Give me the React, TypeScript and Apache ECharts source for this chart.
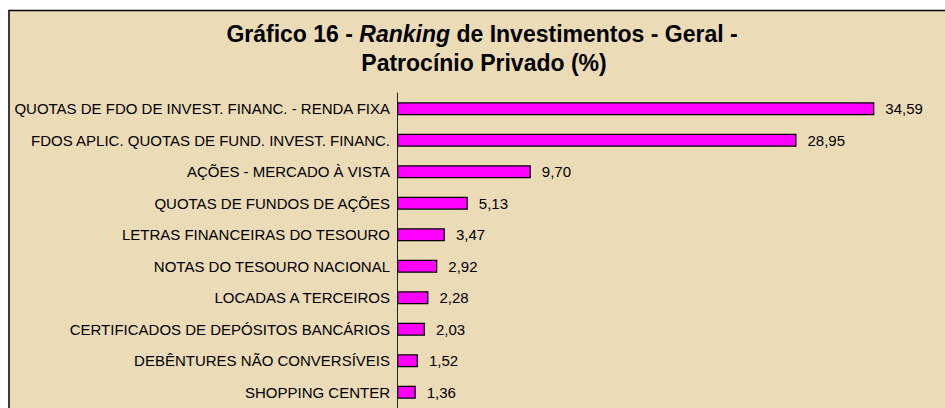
import React, { useEffect, useRef } from "react";
import * as echarts from "echarts";

const categories: string[] = [
  "QUOTAS DE FDO DE INVEST. FINANC. - RENDA FIXA",
  "FDOS APLIC. QUOTAS DE FUND. INVEST. FINANC.",
  "AÇÕES - MERCADO À VISTA",
  "QUOTAS DE FUNDOS DE AÇÕES",
  "LETRAS FINANCEIRAS DO TESOURO",
  "NOTAS DO TESOURO NACIONAL",
  "LOCADAS A TERCEIROS",
  "CERTIFICADOS DE DEPÓSITOS BANCÁRIOS",
  "DEBÊNTURES NÃO CONVERSÍVEIS",
  "SHOPPING CENTER",
];
const values: number[] = [34.59, 28.95, 9.7, 5.13, 3.47, 2.92, 2.28, 2.03, 1.52, 1.36];

const titleLine1 = ["Gráfico 16 - ", "Ranking", " de Investimentos - Geral -"];
const titleLine2 = "Patrocínio Privado (%)";

const FONT = "'Liberation Sans', Arial, sans-serif";

export default function App() {
  const ref = useRef<HTMLDivElement>(null);
  useEffect(() => {
    if (!ref.current) return;
    const chart = echarts.init(ref.current, null, { renderer: "svg" });
    chart.setOption({
      animation: false,
      backgroundColor: "#ffffff",
      graphic: [
        {
          type: "rect",
          z: -10,
          silent: true,
          shape: { x: 9, y: 10.5, width: 1000, height: 500 },
          style: { fill: "#ECDBB7", stroke: "#000000", lineWidth: 1.5 },
        },
        {
          type: "text",
          x: 482,
          y: 34,
          style: {
            text: `{b|${titleLine1[0]}}{i|${titleLine1[1]}}{b|${titleLine1[2]}}`,
            align: "center",
            verticalAlign: "middle",
            rich: {
              b: { fontFamily: FONT, fontSize: 23, fontWeight: "bold", fill: "#000" },
              i: { fontFamily: FONT, fontSize: 23, fontWeight: "bold", fontStyle: "italic", fill: "#000" },
            },
          },
        },
        {
          type: "text",
          x: 484,
          y: 63,
          style: {
            text: titleLine2,
            align: "center",
            verticalAlign: "middle",
            fontFamily: FONT,
            fontSize: 23,
            fontWeight: "bold",
            fill: "#000",
          },
        },
      ],
      grid: { left: 397, top: 93, width: 483, height: 320, containLabel: false },
      xAxis: {
        type: "value",
        min: 0,
        max: 35,
        show: false,
      },
      yAxis: {
        type: "category",
        data: categories,
        inverse: true,
        axisLine: { show: true, lineStyle: { color: "#222", width: 1 } },
        axisTick: { show: false },
        axisLabel: { color: "#000", fontFamily: FONT, fontSize: 15, margin: 7 },
      },
      series: [
        {
          type: "bar",
          data: values,
          barWidth: 13,
          itemStyle: { color: "#FF00FF", borderColor: "#000", borderWidth: 1.3 },
          label: {
            show: true,
            position: "right",
            distance: 11,
            color: "#000",
            fontFamily: FONT,
            fontSize: 15,
            formatter: (p: any) => p.value.toFixed(2).replace(".", ","),
          },
        },
      ],
    });
    return () => chart.dispose();
  }, []);
  return (
    <div
      ref={ref}
      style={{ position: "absolute", left: 0, top: 0, width: 945, height: 408 }}
    />
  );
}
